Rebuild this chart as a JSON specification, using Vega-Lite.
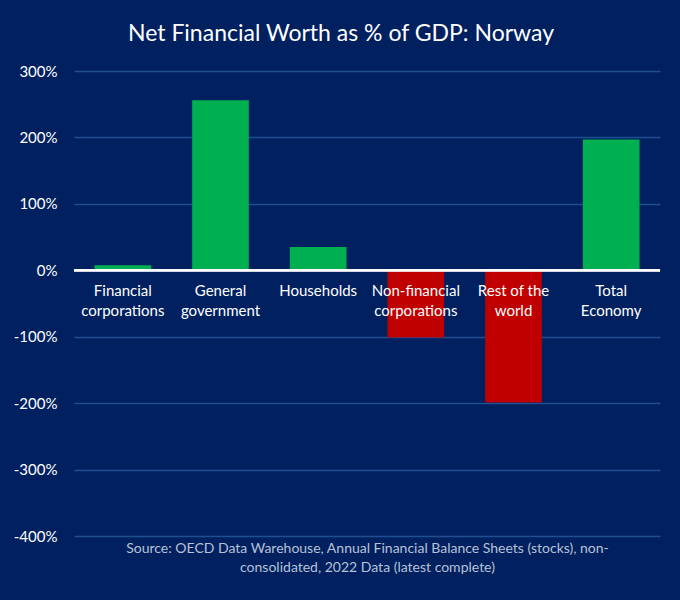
{
  "$schema": "https://vega.github.io/schema/vega-lite/v6.json",
  "autosize": {"type": "none"},
  "width": 586,
  "height": 465,
  "padding": {"left": 74, "top": 71, "right": 20, "bottom": 64},
  "background": "#002060",
  "title": {
    "text": "Net Financial Worth as % of GDP: Norway",
    "color": "#ffffff",
    "font": "Lato",
    "fontSize": 23,
    "fontWeight": "normal",
    "anchor": "middle",
    "dx": -26,
    "offset": 18
  },
  "config": {
    "view": {"stroke": null},
    "font": "Lato"
  },
  "data": {
    "values": [
      {"sector": "Financial corporations", "value": 0.075},
      {"sector": "General government", "value": 2.56},
      {"sector": "Households", "value": 0.35},
      {"sector": "Non-financial corporations", "value": -1.01},
      {"sector": "Rest of the world", "value": -1.99},
      {"sector": "Total Economy", "value": 1.97}
    ]
  },
  "encoding": {
    "x": {
      "field": "sector",
      "type": "nominal",
      "sort": null,
      "scale": {"paddingInner": 0.42, "paddingOuter": 0.21},
      "axis": {
        "labels": false,
        "ticks": false,
        "domain": false,
        "title": ["Source: OECD Data Warehouse, Annual Financial Balance Sheets (stocks), non-", "consolidated, 2022 Data (latest complete)"],
        "titleColor": "#b8c2d6",
        "titleFont": "Lato",
        "titleFontSize": 14,
        "titleFontWeight": "normal",
        "titleLineHeight": 19,
        "titlePadding": 5
      }
    }
  },
  "layer": [
    {
      "mark": {"type": "bar"},
      "encoding": {
        "y": {
          "field": "value",
          "type": "quantitative",
          "scale": {"domain": [-4, 3], "nice": false},
          "axis": {
            "values": [-4, -3, -2, -1, 0, 1, 2, 3],
            "labelExpr": "replace(format(datum.value, '.0%'), '\u2212', '-')",
            "title": null,
            "domain": false,
            "ticks": false,
            "labelColor": "#ffffff",
            "labelFontSize": 15,
            "labelPadding": 17,
            "gridColor": "#1f4f8f",
            "gridWidth": 1.5
          }
        },
        "color": {
          "condition": {"test": "datum.value < 0", "value": "#C00000"},
          "value": "#00B050"
        }
      }
    },
    {
      "mark": {"type": "rule", "color": "#ffffff", "strokeWidth": 2},
      "encoding": {"x": null, "y": {"datum": 0, "type": "quantitative"}}
    },
    {
      "mark": {
        "type": "text",
        "color": "#ffffff",
        "fontSize": 15,
        "baseline": "top",
        "align": "center",
        "dy": 14,
        "lineHeight": 20,
        "lineBreak": "\n"
      },
      "transform": [
        {"calculate": "datum.sector == 'Financial corporations' ? 'Financial\\ncorporations' : datum.sector == 'General government' ? 'General\\ngovernment' : datum.sector == 'Non-financial corporations' ? 'Non-financial\\ncorporations' : datum.sector == 'Rest of the world' ? 'Rest of the\\nworld' : datum.sector == 'Total Economy' ? 'Total\\nEconomy' : datum.sector", "as": "label"}
      ],
      "encoding": {
        "y": {"datum": 0, "type": "quantitative"},
        "text": {"field": "label"}
      }
    }
  ]
}
